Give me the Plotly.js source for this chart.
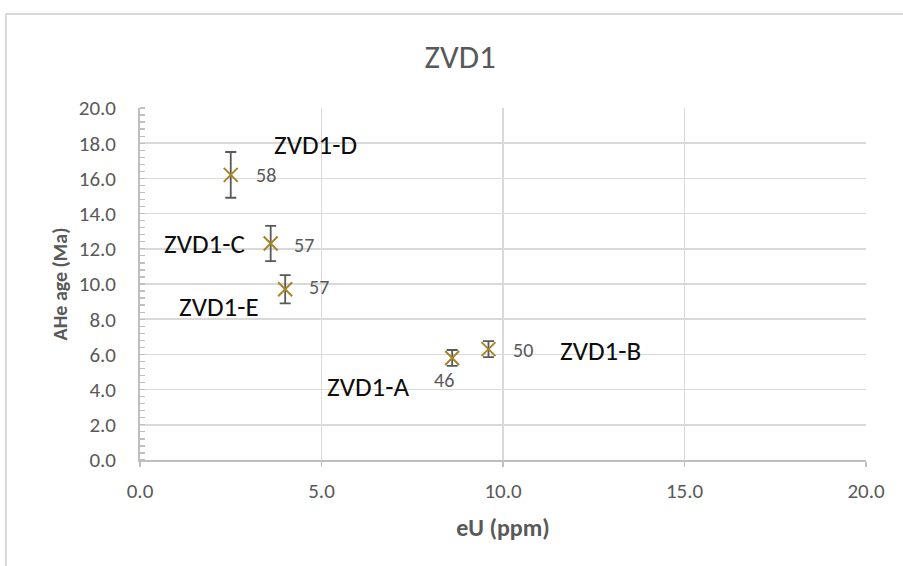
<!DOCTYPE html>
<html>
<head>
<meta charset="utf-8">
<script src="https://cdn.plot.ly/plotly-3.0.1.min.js"></script>
<style>
  html, body { margin: 0; padding: 0; background: #ffffff; overflow: hidden; }
  #frame { position: absolute; left: 5px; top: 13px; width: 1200px; height: 1000px;
           border-left: 2px solid #d9d9d9; border-top: 2px solid #d9d9d9; }
  #chart { position: absolute; left: 0; top: 0; width: 903px; height: 566px; }
</style>
</head>
<body>
<div id="frame"></div>
<div id="chart"></div>
<script>
// Data
const sampleNames = ["ZVD1-A", "ZVD1-B", "ZVD1-C", "ZVD1-D", "ZVD1-E"];
const eU = [8.6, 9.6, 3.6, 2.5, 4.0];            // ppm
const aheAge = [5.8, 6.3, 12.3, 16.2, 9.7];      // Ma
const ageError = [0.45, 0.45, 1.0, 1.3, 0.8];    // Ma (1 sigma)
const grainCounts = ["46", "50", "57", "58", "57"];
const xTicks = [0, 5, 10, 15, 20];
const yTicks = [0, 2, 4, 6, 8, 10, 12, 14, 16, 18, 20];

// label offsets (pixels) relative to each point — style only
const nameOffsets = [[-84, -29], [112, -1], [-66, 0], [85, 30], [-66, -17]];
const countOffsets = [[-8, -22], [35, -1], [33, -1], [35, 0], [34, 2]];

const FONT = "Calibri, Carlito, Lato, 'Open Sans', sans-serif";
const GREY = "#595959";

const trace = {
  type: "scatter",
  mode: "markers",
  x: eU,
  y: aheAge,
  marker: { symbol: "x-thin", size: 14, color: "#A68526",
            line: { color: "#A68526", width: 2 } },
  error_y: { type: "data", array: ageError, visible: true,
             color: GREY, thickness: 1.8, width: 5.5 },
  hoverinfo: "skip",
  showlegend: false
};

const annotations = [];
for (let i = 0; i < sampleNames.length; i++) {
  annotations.push({
    x: eU[i], y: aheAge[i], xref: "x", yref: "y",
    text: sampleNames[i], showarrow: false,
    xshift: nameOffsets[i][0], yshift: nameOffsets[i][1],
    font: { family: FONT, size: 27, color: "#0d0d0d" }
  });
  annotations.push({
    x: eU[i], y: aheAge[i], xref: "x", yref: "y",
    text: grainCounts[i], showarrow: false,
    xshift: countOffsets[i][0], yshift: countOffsets[i][1],
    font: { family: FONT, size: 20, color: GREY }
  });
}

const layout = {
  width: 903, height: 566,
  margin: { l: 140, r: 37, t: 108, b: 106 },
  paper_bgcolor: "rgba(0,0,0,0)",
  plot_bgcolor: "rgba(0,0,0,0)",
  font: { family: FONT, color: GREY, size: 21 },
  title: { text: "ZVD1", x: 0.441, xref: "paper", xanchor: "center",
           y: 0.900, yanchor: "middle", yref: "container",
           font: { family: FONT, size: 33, color: GREY } },
  xaxis: {
    range: [0, 20], tickvals: xTicks, ticktext: xTicks.map(v => v.toFixed(1)),
    showgrid: true, gridcolor: "#d9d9d9", gridwidth: 1.5,
    showline: true, linecolor: "#bfbfbf", linewidth: 1.8,
    ticks: "outside", ticklen: 5, tickcolor: "#bfbfbf", tickwidth: 1.5,
    zeroline: false, fixedrange: true,
    ticklabelstandoff: 6,
    tickfont: { family: FONT, size: 21, color: GREY },
    title: { text: "<b>eU (ppm)</b>", standoff: 16,
             font: { family: FONT, size: 24, color: GREY } }
  },
  yaxis: {
    range: [0, 20], tickvals: yTicks, ticktext: yTicks.map(v => v.toFixed(1)),
    showgrid: true, gridcolor: "#d9d9d9", gridwidth: 1.5,
    showline: true, linecolor: "#bfbfbf", linewidth: 1.8,
    ticks: "", zeroline: false, fixedrange: true,
    tickfont: { family: FONT, size: 21, color: GREY },
    ticklabelstandoff: 18,
    minor: { dtick: 0.4, ticks: "inside", ticklen: 5, tickcolor: "#bfbfbf",
             tickwidth: 1.3, showgrid: false },
    title: { text: "<b>AHe age (Ma)</b>", standoff: 6,
             font: { family: FONT, size: 20, color: GREY } }
  },
  annotations: annotations,
  showlegend: false
};

Plotly.newPlot("chart", [trace], layout, { displayModeBar: false, staticPlot: true });
</script>
</body>
</html>
